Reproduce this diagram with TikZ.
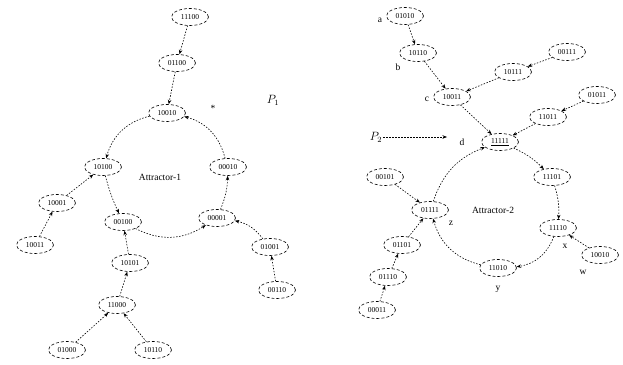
\documentclass[tikz,border=0pt]{standalone}
\usepackage{fontspec}
\setmainfont{Liberation Serif}
\usetikzlibrary{shapes.geometric,arrows.meta}
\begin{document}
\begin{tikzpicture}[x=1pt,y=-1pt,
  st/.style={ellipse,draw,densely dashed,line width=0.6pt,inner sep=0.5pt,
    minimum width=37pt,minimum height=17pt,font=\fontsize{7.5}{8}\selectfont},
  edge/.style={densely dashed,dash pattern=on 1.5pt off 1.5pt,line width=0.6pt,-{Stealth[length=4.5pt,width=3.5pt]}},
  lbl/.style={font=\fontsize{9.5}{10}\selectfont,inner sep=1pt}]
\useasboundingbox (0,0) rectangle (623,364);
% ---------- component 1
\node[st] (A1) at (190,17) {11100};
\node[st] (A2) at (177,63) {01100};
\node[st] (A3) at (167,113) {10010};
\node[st] (A4) at (103,167) {10100};
\node[st] (A5) at (228,167) {00010};
\node[st] (A6) at (57,203) {10001};
\node[st] (A7) at (35,245) {10011};
\node[st] (A8) at (123,222) {00100};
\node[st] (A9) at (217,218) {00001};
\node[st] (A10) at (270,247) {01001};
\node[st] (A11) at (277,290) {00110};
\node[st] (A12) at (130,263) {10101};
\node[st] (A13) at (117,305) {11000};
\node[st] (A14) at (67,350) {01000};
\node[st] (A15) at (153,350) {10110};
\node[lbl] (T1) at (160,177) {Attractor-1};
\node[lbl] (S1) at (213,108) {*};
\node[lbl,font=\fontsize{12}{13}\selectfont] (P1) at (273,100) {$P_1$};
\draw[edge] (A1) -- (A2);
\draw[edge] (A2) -- (A3);
\draw[edge] (A3) to[bend right=30] (A4);
\draw[edge] (A4) to[bend right=5] (A8);
\draw[edge] (A8) to[bend right=30] (A9);
\draw[edge] (A9) to[bend right=10] (A5);
\draw[edge] (A5) to[bend right=30] (A3);
\draw[edge] (A6) -- (A4);
\draw[edge] (A7) -- (A6);
\draw[edge] (A12) -- (A8);
\draw[edge] (A13) -- (A12);
\draw[edge] (A14) -- (A13);
\draw[edge] (A15) -- (A13);
\draw[edge] (A10) to[bend right=20] (A9);
\draw[edge] (A11) -- (A10);
% ---------- component 2
\node[st] (B1) at (405,16) {01010};
\node[st] (B2) at (418,53) {10110};
\node[st] (B3) at (452,97) {10011};
\node[st] (B4) at (500,142) {\underline{11111}};
\node[st] (B5) at (513,72) {10111};
\node[st] (B6) at (567,52) {00111};
\node[st] (B7) at (548,117) {11011};
\node[st] (B8) at (597,95) {01011};
\node[st] (B9) at (552,177) {11101};
\node[st] (B10) at (385,177) {00101};
\node[st] (B11) at (430,210) {01111};
\node[st] (B12) at (558,228) {11110};
\node[st] (B13) at (600,255) {10010};
\node[st] (B14) at (498,268) {11010};
\node[st] (B15) at (402,245) {01101};
\node[st] (B16) at (388,277) {01110};
\node[st] (B17) at (377,310) {00011};
\node[lbl] (La) at (380,20) {a};
\node[lbl] (Lb) at (398,67) {b};
\node[lbl] (Lc) at (427,99) {c};
\node[lbl] (Ld) at (462,142) {d};
\node[lbl] (Lz) at (451,223) {z};
\node[lbl] (Lx) at (565,246) {x};
\node[lbl] (Lw) at (583,272) {w};
\node[lbl] (Ly) at (498,289) {y};
\node[lbl] (T2) at (493,210) {Attractor-2};
\node[lbl,font=\fontsize{12}{13}\selectfont] (P2) at (376,137) {$P_2$};
\coordinate (P2e) at (447,137);
\draw[edge] (P2) -- (P2e);
\draw[edge] (B1) -- (B2);
\draw[edge] (B2) -- (B3);
\draw[edge] (B5) -- (B3);
\draw[edge] (B6) -- (B5);
\draw[edge] (B3) -- (B4);
\draw[edge] (B8) -- (B7);
\draw[edge] (B7) -- (B4);
\draw[edge] (B4) to[bend left=10] (B9);
\draw[edge] (B9) to[bend left=10] (B12);
\draw[edge] (B12) to[bend left=30] (B14);
\draw[edge] (B14) to[bend left=30] (B11);
\draw[edge] (B11) to[bend left=25] (B4);
\draw[edge] (B13) -- (B12);
\draw[edge] (B10) -- (B11);
\draw[edge] (B15) -- (B11);
\draw[edge] (B16) -- (B15);
\draw[edge] (B17) -- (B16);
\end{tikzpicture}
\end{document}
